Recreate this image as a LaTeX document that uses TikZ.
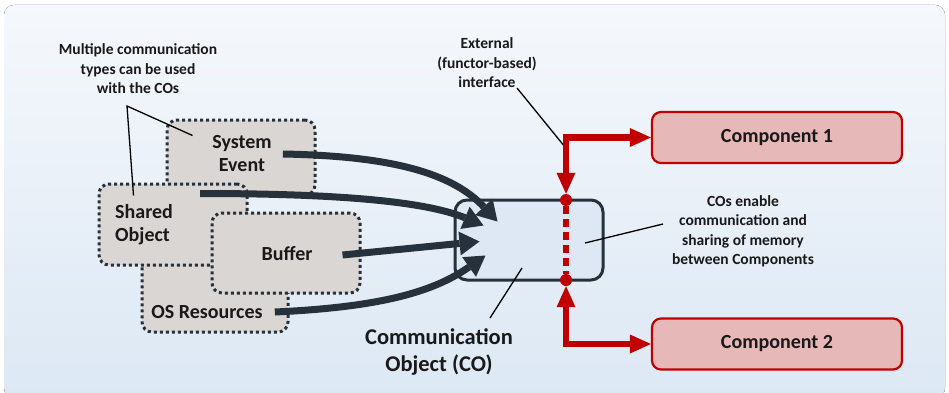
\documentclass[tikz,border=0pt]{standalone}
\usepackage{fontspec}
\setmainfont{Carlito}
\usepackage{tikz}
\usetikzlibrary{arrows.meta}
\definecolor{bgtop}{HTML}{F5F8FC}
\definecolor{bgbottom}{HTML}{DCE8F4}
\definecolor{darkline}{HTML}{27313B}
\definecolor{boxgray}{HTML}{DAD6D4}
\definecolor{cofill}{HTML}{DDE8F4}
\definecolor{cored}{HTML}{C00000}
\definecolor{compfill}{HTML}{E6B9B8}
\tikzstyle{ctype}=[draw=darkline,line width=3pt,dash pattern=on 3pt off 3pt,fill=boxgray,rounded corners=10pt,inner sep=0pt]
\tikzstyle{ctext}=[align=center,inner sep=0pt,text=black!90,font=\fontsize{20}{23}\selectfont\bfseries]
\tikzstyle{note}=[align=center,inner sep=0pt,text=black!90,font=\fontsize{15.5}{19.5}\selectfont\bfseries]
\tikzstyle{pointer}=[draw=black,line width=1.3pt]
\tikzstyle{flow}=[draw=darkline,line width=7pt,-{Triangle[length=20pt,width=24pt,line width=0pt]}]
\tikzstyle{link}=[draw=cored,line width=6.5pt,{Triangle[length=21pt,width=19pt,line width=0pt]}-{Triangle[length=21pt,width=19pt,line width=0pt]}]
\tikzstyle{component}=[draw=cored,line width=2.2pt,fill=compfill,rounded corners=9pt,minimum width=250pt,minimum height=51pt,text=black!90,font=\fontsize{20}{23}\selectfont\bfseries]
\tikzstyle{reddot}=[circle,fill=cored,minimum size=12pt,inner sep=0pt]

\begin{document}
\begin{tikzpicture}[x=1pt,y=1pt]
    \useasboundingbox (0,0) rectangle (949,392);
    \fill[top color=bgtop,bottom color=bgbottom,rounded corners=10pt] (4,-6) rectangle (945,387);
    % First we draw the communication types, back to front
    \foreach \name/\pos/\w/\h in {{osbox/(215,98.5)/146/77}, {sebox/(241,234.5)/148/75}, {sobox/(173,167.5)/148/81}, {bfbox/(286,139)/148/80}}
        \node[ctype,minimum width=\w pt,minimum height=\h pt] (\name) at \pos {};
    \node[ctext] (setext) at (242,238) {System\\Event};
    \node[ctext,align=left,anchor=west] (sotext) at (115,167) {Shared\\Object};
    \node[ctext] (bftext) at (287,138) {Buffer};
    \node[ctext] (ostext) at (207,80) {OS Resources};
    % The communication object
    \node[draw=darkline,line width=3pt,fill=cofill,rounded corners=12pt,minimum width=148pt,minimum height=80pt] (cobox) at (529,152) {};
    % Flows into the CO
    \draw[flow] ([xshift=11pt]setext.east) .. controls +(110,-2) and +(-45,48) .. ([xshift=44pt,yshift=-23pt]cobox.north west);
    \draw[flow] ([xshift=27pt,yshift=-11pt]sobox.north) .. controls +(130,0) and +(-60,25) .. ([xshift=30pt,yshift=-27pt]cobox.north west);
    \draw[flow] ([xshift=-19pt,yshift=-2pt]bfbox.east) -- ([xshift=26pt,yshift=-43pt]cobox.north west);
    \draw[flow] ([xshift=12pt]ostext.east) .. controls +(110,5) and +(-50,-35) .. ([xshift=32pt,yshift=-57pt]cobox.north west);
    % Interface and components
    \node[reddot] (ifacetop) at (566,192) {};
    \node[reddot] (ifacebot) at (566,112) {};
    \draw[cored,line width=6pt,dash pattern=on 8pt off 5pt] (ifacetop) -- (ifacebot);
    \node[component] (comp1) at (777,254.5) {Component 1};
    \node[component] (comp2) at (777,48) {Component 2};
    \node[note] (ext) at (487,329) {External\\(functor-based)\\interface};
    \coordinate (extpt) at (517,304);
    \draw[pointer] (extpt) -- ([xshift=-1pt,yshift=53pt]ifacetop.center);
    \draw[link] (ifacetop) |- (comp1);
    \draw[link] (ifacebot) |- (comp2);
    % Notes
    \node[note] (multi) at (138,323) {Multiple communication\\types can be used\\with the COs};
    \coordinate (apex) at (127,286);
    \draw[pointer] ([xshift=27pt,yshift=-17pt]sebox.north west) -- (apex) -- ([xshift=36pt,yshift=-13pt]sobox.north west);
    \node[note] (enable) at (743,160.5) {COs enable\\communication and\\sharing of memory\\between Components};
    \coordinate (enablept) at (663,168);
    \draw[pointer] (enablept) -- ([xshift=56pt,yshift=-3pt]cobox.center);
    \node[note,font=\fontsize{22.5}{27}\selectfont\bfseries] (coname) at (439,40.5) {Communication\\Object (CO)};
    \coordinate (conamept) at (490,74);
    \draw[pointer] (conamept) -- ([xshift=-7pt,yshift=-28pt]cobox.center);
\end{tikzpicture}
\end{document}
